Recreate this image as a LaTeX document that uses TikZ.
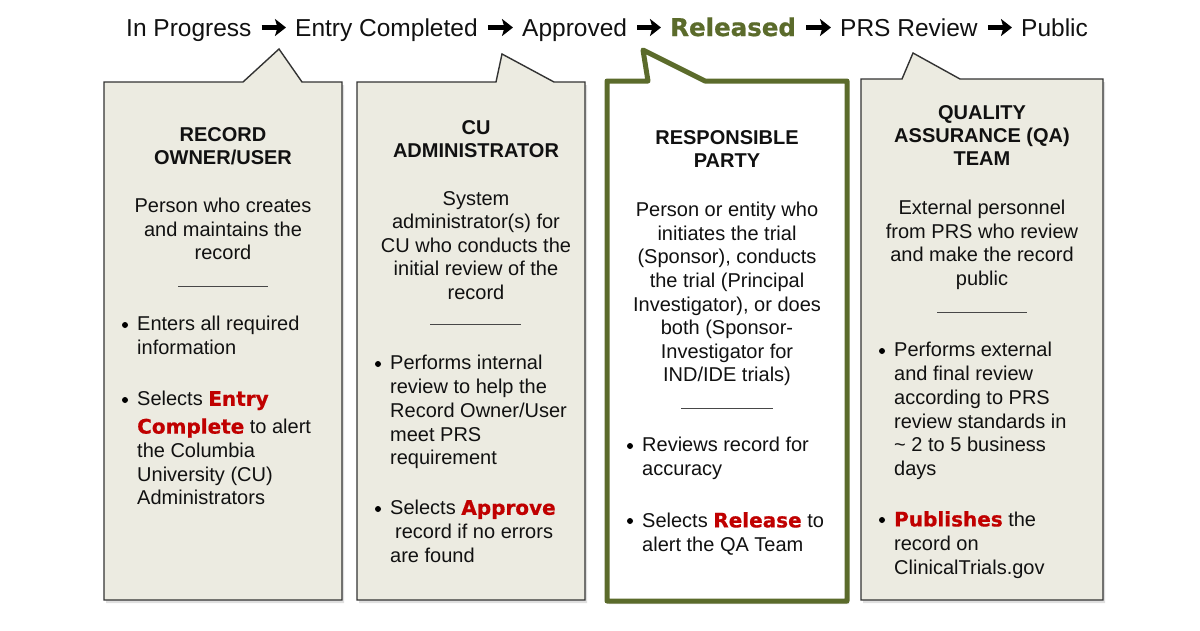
\documentclass[tikz,border=0pt]{standalone}
\usepackage{fontspec}
\setmainfont{Liberation Sans}
\newfontfamily\heavyfont{DejaVu Sans Bold}[FakeBold=0.7]
\usetikzlibrary{shadows,arrows.meta}
\definecolor{boxfill}{HTML}{ECEBE1}
\definecolor{boxline}{HTML}{333333}
\definecolor{relgreen}{HTML}{5B6B2B}
\definecolor{keyred}{HTML}{C00000}
\definecolor{txt}{HTML}{111111}
\newcommand\kw[1]{{\heavyfont\color{keyred}#1}}
\tikzset{
  callout/.style={draw=boxline, line width=1.4pt, fill=boxfill, line join=miter,
    drop shadow={shadow xshift=2pt, shadow yshift=-3pt, opacity=0.25}},
  hotcallout/.style={draw=relgreen, line width=5pt, fill=white, line join=round,
    drop shadow={shadow xshift=2pt, shadow yshift=-3pt, opacity=0.25}},
  hword/.style={anchor=base west, inner sep=0pt, text=txt, font=\fontsize{24.5}{28}\selectfont},
  harrow/.style={line width=4.2pt, -{Stealth[length=11pt, width=17pt, inset=2.5pt]}, black},
  title/.style={font=\bfseries\fontsize{20}{23}\selectfont, align=center, anchor=north,
    inner sep=0pt, text=txt, execute at begin node=\strut},
  desc/.style={font=\fontsize{20}{23.6}\selectfont, align=center, anchor=north,
    inner sep=0pt, text=txt, execute at begin node=\strut},
  bul/.style={font=\fontsize{20}{23.8}\selectfont, align=left, anchor=north west,
    inner sep=0pt, text=txt, execute at begin node=\strut},
  dot/.style={circle, fill=black, inner sep=0pt, minimum size=6pt},
  seprule/.style={draw=boxline!90, line width=1pt},
}
\begin{document}
\begin{tikzpicture}[x=1pt, y=-1pt]
\useasboundingbox (0,0) rectangle (1200,630);
\fill[white] (0,0) rectangle (1200,630);

% header
\node[hword] (h1) at (126,36) {In Progress};
\node[hword] (h2) at (295,36) {Entry Completed};
\node[hword] (h3) at (522,36) {Approved};
\node[hword, text=relgreen] (h4) at (670,36) {\heavyfont Released};
\node[hword] (h5) at (840,36) {PRS Review};
\node[hword] (h6) at (1021,36) {Public};
\foreach \a/\b in {h1/h2,h2/h3,h3/h4,h4/h5,h5/h6}
  \draw[harrow] ([shift={(10pt,8.5pt)}]\a.base east) -- ([shift={(-9pt,8.5pt)}]\b.base west);

% callout boxes
\path[callout] (104,82) -- (243,82) -- (279,49) -- (302,82) -- (342,82) -- (342,600) -- (104,600) -- cycle;
\path[callout] (357,82) -- (496,82) -- (502,54) -- (554,82) -- (585,82) -- (585,600) -- (357,600) -- cycle;
\path[hotcallout] (607,81) -- (648,81) -- (643,50) -- (705,81) -- (847,81) -- (847,601) -- (607,601) -- cycle;
\path[callout] (861,79) -- (902,79) -- (913,53) -- (960,79) -- (1103,79) -- (1103,600) -- (861,600) -- cycle;

% box 1
\node[title] (t1) at (223,127.5) {RECORD\\OWNER/USER};
\node[desc] (d1) at (223,198) {Person who creates\\and maintains the\\record};
\draw[seprule] (178,286) -- (268,286);
\node[dot] (b1a) at (125,325) {};
\node[bul] (p1a) at (137,316) {Enters all required\\information};
\node[dot] (b1b) at (125,400) {};
\node[bul] (p1b) at (137,391) {Selects \kw{Entry}\\[4pt]\kw{Complete} to alert\\the Columbia\\University (CU)\\Administrators};

% box 2
\node[title] (t2) at (476,120.5) {CU\\ADMINISTRATOR};
\node[desc] (d2) at (476,191) {System\\administrator(s) for\\CU who conducts the\\initial review of the\\record};
\draw[seprule] (430,324) -- (521,324);
\node[dot] (b2a) at (378,364) {};
\node[bul] (p2a) at (390,355) {Performs internal\\review to help the\\Record Owner/User\\meet PRS\\requirement};
\node[dot] (b2b) at (378,509) {};
\node[bul] (p2b) at (390,500) {Selects \kw{Approve}\\\hspace{5pt}record if no errors\\are found};

% box 3
\node[title] (t3) at (727,130.5) {RESPONSIBLE\\PARTY};
\node[desc] (d3) at (727,202) {Person or entity who\\initiates the trial\\(Sponsor), conducts\\the trial (Principal\\Investigator), or does\\both (Sponsor-\\Investigator for\\IND/IDE trials)};
\draw[seprule] (681,408) -- (773,408);
\node[dot] (b3a) at (630,446) {};
\node[bul] (p3a) at (642,437) {Reviews record for\\accuracy};
\node[dot] (b3b) at (630,521) {};
\node[bul] (p3b) at (642,512) {Selects \kw{Release} to\\alert the QA Team};

% box 4
\node[title] (t4) at (982,105.5) {QUALITY\\ASSURANCE (QA)\\TEAM};
\node[desc] (d4) at (982,200) {External personnel\\from PRS who review\\and make the record\\public};
\draw[seprule] (937,312) -- (1027,312);
\node[dot] (b4a) at (882,351) {};
\node[bul] (p4a) at (894,342) {Performs external\\and final review\\according to PRS\\review standards in\\\textasciitilde{} 2 to 5 business\\days};
\node[dot] (b4b) at (882,520) {};
\node[bul] (p4b) at (894,511) {\kw{Publishes} the\\record on\\ClinicalTrials.gov};
\end{tikzpicture}
\end{document}
